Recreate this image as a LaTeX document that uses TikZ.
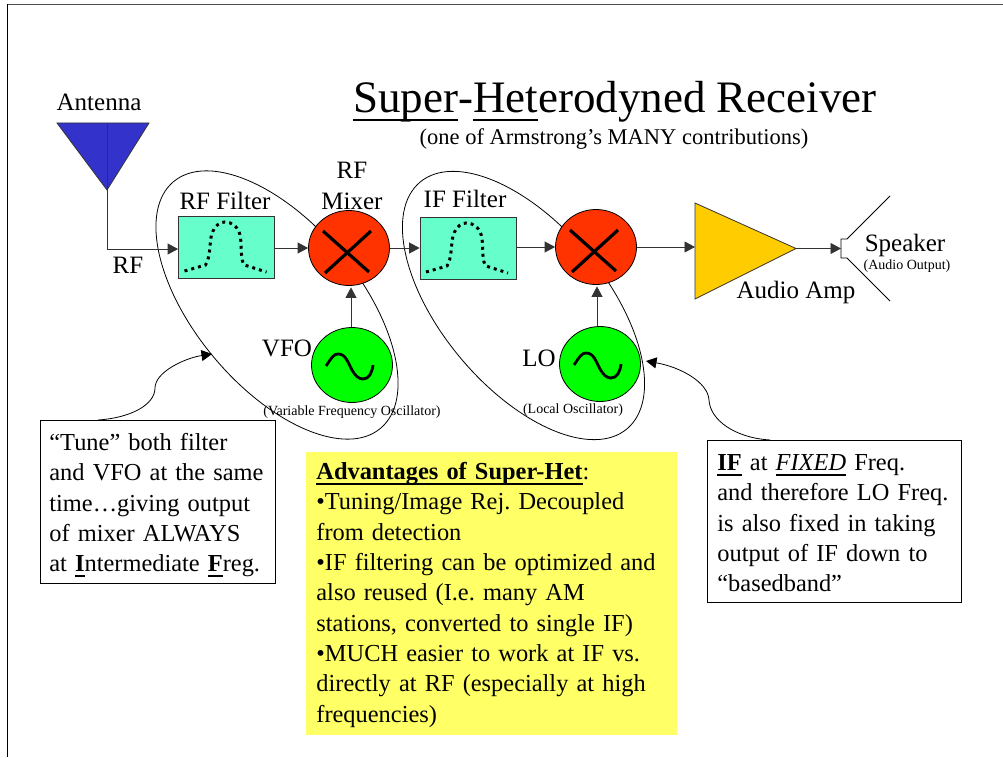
\documentclass[tikz,border=0pt]{standalone}
\usepackage{fontspec}
\setmainfont{Liberation Serif}
\usetikzlibrary{calc, arrows.meta, shapes.geometric}
\tikzset{>=stealth}
\tikzset{
    lbl/.style={inner sep=0pt, font=\fontsize{25}{25}\selectfont},
    tiny/.style={inner sep=0pt, font=\fontsize{14}{14}\selectfont},
    filterbox/.style={draw=black!80, fill=filtergreen, line width=0.8pt, minimum width=96pt, minimum height=62pt, inner sep=0pt},
    mixer/.style={ellipse, draw=black, fill=mixerred, line width=0.8pt, minimum width=81pt, minimum height=75pt, inner sep=0pt},
    osc/.style={ellipse, draw=black, fill=oscgreen, line width=0.8pt, minimum width=81pt, minimum height=75pt, inner sep=0pt},
    wire/.style={draw=black!80, line width=0.8pt},
    flow/.style={wire, -{Triangle[length=10.5pt,width=11pt]}},
    group/.style={draw=black, line width=0.8pt},
    notebox/.style={draw=black, fill=white, line width=0.8pt, align=left, anchor=north west, inner ysep=0pt, font=\fontsize{24.4}{30.3}\selectfont},
}
\definecolor{filtergreen}{RGB}{102,255,204}
\definecolor{mixerred}{RGB}{255,51,0}
\definecolor{oscgreen}{RGB}{0,255,0}
\definecolor{ampyellow}{RGB}{255,204,0}
\definecolor{antblue}{RGB}{51,51,204}
\definecolor{noteyellow}{RGB}{255,255,102}
% underline with its own offset and thickness
\newcommand{\heavyul}[3]{\leavevmode\setbox0=\hbox{#3}\rlap{\vrule width\wd0 height-#1 depth\dimexpr#1+#2\relax}\box0\relax}
\newcommand{\bodyul}[1]{\heavyul{3pt}{2.5pt}{#1}}
\newcommand{\filtercurve}[1]{%
    \draw[shift={(#1)}, line width=3pt, dash pattern=on 3pt off 4pt] (-42,24) -- (-21,18)
        .. controls (-16,10) and (-17,-4) .. (-15,-12)
        .. controls (-12,-22) and (-6,-25) .. (-2,-25)
        .. controls (6,-25) and (12,-20) .. (14,-10)
        .. controls (15,0) and (14,14) .. (18,18)
        -- (40,25);}
\newcommand{\crossmark}[1]{%
    \draw[shift={(#1)}, line width=3.2pt] (-26,-17) -- (20,24);
    \draw[shift={(#1)}, line width=3.2pt] (-24,25) -- (22,-17);}
\newcommand{\sinemark}[1]{%
    \draw[shift={(#1)}, line width=2.8pt] (-26,1)
        .. controls (-20,-8) and (-18,-11) .. (-14,-11)
        .. controls (-6,-11) and (-4,-2) .. (0,5)
        .. controls (3,10) and (6,14) .. (11,14)
        .. controls (17,14) and (20,8) .. (21,0);}
\begin{document}
\begin{tikzpicture}[x=1pt, y=-1pt]
    \frenchspacing
    \useasboundingbox (0,0) rectangle (1003,757);
    % page edge
    \draw[line width=0.9pt, draw=black!70] (7,4) -- (1003,4);
    \draw[line width=1pt] (7,4) -- (7,757);
    % title
    \node[inner sep=0pt, font=\fontsize{45}{45}\selectfont] (title) at (615,102) {\heavyul{6pt}{2.6pt}{Super}-\heavyul{6pt}{2.6pt}{Het}erodyned Receiver};
    \node[inner sep=0pt, font=\fontsize{22.5}{23}\selectfont] (subtitle) at (614,139) {(one of Armstrong’s MANY contributions)};
    % groups
    \draw[group, shift={(277,305)}, rotate=-50] (0,0) ellipse (161pt and 82pt);
    \draw[group, shift={(523.5,305.5)}, rotate=-50] (0,0) ellipse (161pt and 82pt);
    % antenna
    \coordinate (anttip) at (107,190);
    \coordinate (anttop) at (107,123);
    \filldraw[draw=black!80, fill=antblue, line width=0.8pt] (57,123) -- (149,123) -- (anttip) -- cycle;
    \draw[wire] (anttop) -- (anttip);
    \node[lbl] (antlabel) at (99,102) {Antenna};
    % blocks
    \node[filterbox] (rffilter) at (226.5,247) {};
    \node[mixer] (rfmixer) at (349,248) {};
    \node[osc] (vfo) at (352,365) {};
    \node[filterbox] (iffilter) at (468,248) {};
    \node[mixer] (ifmixer) at (596,247) {};
    \node[osc] (lo) at (600,364) {};
    \filtercurve{rffilter}
    \filtercurve{iffilter}
    \crossmark{rfmixer}
    \crossmark{ifmixer}
    \sinemark{vfo}
    \sinemark{lo}
    % amp and speaker
    \filldraw[draw=black!80, fill=ampyellow, line width=0.8pt] (695,203) -- (796,248.5) -- (695,299) -- cycle;
    \coordinate (ampin) at (695,248);
    \coordinate (ampout) at (796,248.5);
    \coordinate (spkin) at (841,248.5);
    \draw[draw=black, line width=0.9pt] (890,196) -- (847,239) -- (841,239) -- (841,258) -- (847,258) -- (890,301);
    % connectors
    \coordinate (corner) at (107,249);
    \draw[flow] (anttip) -- (corner) -- (corner -| rffilter.west);
    \draw[flow] (rfmixer.west -| rffilter.east) -- (rfmixer.west);
    \draw[flow] (rfmixer.east) -- (rfmixer.east -| iffilter.west);
    \draw[flow] (ifmixer.west -| iffilter.east) -- (ifmixer.west);
    \draw[flow] (ifmixer.east) -- (ifmixer.east -| ampin);
    \draw[flow] (ampout) -- (spkin);
    \draw[flow, shorten >=1.5pt] ($(vfo.north)+(-1,0)$) -- ($(vfo.north |- rfmixer.south)+(-1,0)$);
    \draw[flow, shorten >=1.5pt] ($(lo.north)+(-3,0)$) -- ($(lo.north |- ifmixer.south)+(-3,0)$);
    % labels
    \node[lbl] (rflabel) at (128,265) {RF};
    \node[lbl] (rffilterlabel) at (225,201) {RF Filter};
    \node[lbl, align=center, font=\fontsize{25}{31}\selectfont] (mixerlabel) at (352,186) {RF\\Mixer};
    \node[lbl] (iffilterlabel) at (465,199) {IF Filter};
    \node[lbl] (vfolabel) at (287,348) {VFO};
    \node[lbl] (lolabel) at (539,358) {LO};
    \node[lbl] (amplabel) at (796,292) {Audio Amp};
    \node[lbl] (spklabel) at (905,245) {Speaker};
    \node[tiny] (spksub) at (907,266) {(Audio Output)};
    \node[tiny] (vfosub) at (352,412) {(Variable Frequency Oscillator)};
    \node[tiny] (losub) at (573,410) {(Local Oscillator)};
    % notes
    \node[notebox, text width=217pt, minimum height=163pt, inner xsep=9pt] (tunenote) at (40,420) {\rule{0pt}{24pt}“Tune” both filter\\and VFO at the same\\time…giving output\\of mixer ALWAYS\\at \textbf{\bodyul{I}}ntermediate \textbf{\bodyul{F}}reg.};
    \node[notebox, draw=none, fill=noteyellow, text width=351pt, minimum height=283pt, inner xsep=10pt] (advnote) at (306,452) {\rule{0pt}{19pt}\textbf{\bodyul{Advantages of Super-Het}}:\\•Tuning/Image Rej. Decoupled\\from detection\\•IF filtering can be optimized and\\also reused (I.e. many AM\\stations, converted to single IF)\\•MUCH easier to work at IF vs.\\directly at RF (especially at high\\frequencies)};
    \node[notebox, text width=234pt, minimum height=162pt, inner xsep=10pt] (ifnote) at (707,440) {\rule{0pt}{20pt}\textbf{\bodyul{IF}} at \textit{\bodyul{FIXED}} Freq.\\and therefore LO Freq.\\is also fixed in taking\\output of IF down to\\“basedband”};
    % callouts
    \draw[flow, draw=black] ($(tunenote.north)+(-60,0)$) .. controls (130,418) and (155,405) .. (155,388) .. controls (155,372) and (185,358) .. (212,354);
    \draw[flow, draw=black] ($(ifnote.north)+(-64,0)$) .. controls (735,438) and (710,420) .. (709,400) .. controls (708,382) and (680,367) .. (646,361);
\end{tikzpicture}
\end{document}
